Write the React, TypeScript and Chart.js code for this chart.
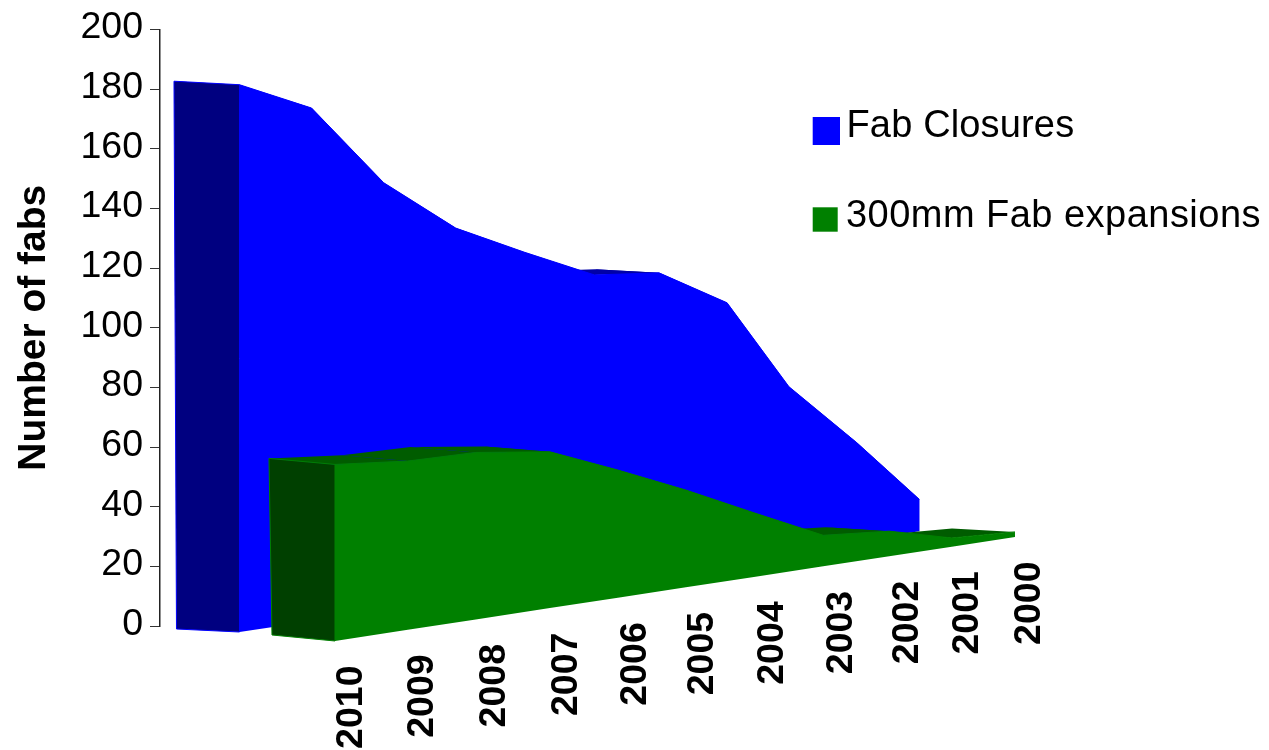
import React, { useEffect, useRef } from "react";
import { Chart, registerables } from "chart.js";

Chart.register(...registerables);

// Tick labels along the receding floor
const yearLabels = ["2010", "2009", "2008", "2007", "2006", "2005", "2004", "2003", "2002", "2001", "2000"];
const yearLabelNudge = [2, 0, 4, 2, 3, 2, 4, 3, 3, 1, 0];

// Series values
const closureValues = [183.5, 172.1, 143.5, 124.7, 113.2, 102.1, 99.6, 86.2, 55, 32.8, 10.7];
const expansionValues = [59.2, 56.6, 56, 52.4, 42.8, 32.6, 21.5, 10.4, 8.4, 2.9, 1.7];

// Where each vertex sits along the year axis in the drawing
const closurePositions = [2010, 2008.94, 2007.88, 2006.82, 2005.81, 2004.78, 2003.83, 2002.83, 2001.92, 2000.92, 2000];
const expansionPositions = [2010, 2008.93, 2007.93, 2006.84, 2005.84, 2004.84, 2003.84, 2002.82, 2001.85, 2000.93, 2000];

const FONT = '"Liberation Sans", Arial, sans-serif';

const seriesStyles = [
  { front: "#0000ff", side: "#000080", top: "#0000a8", shiftX: -95.5, shiftY: 6, skew: -0.148, dxTop: -65.5, dxEnd: -63, dyTop: -3.5, dyEnd: -3.5, dxBot: -63, dyBot: -3 },
  { front: "#008000", side: "#004000", top: "#005c00", shiftX: 0, shiftY: 15, skew: -0.153, dxTop: -66, dxEnd: -63, dyTop: -6, dyEnd: -3.5, dxBot: -63, dyBot: -6 },
];

const legendRows = [
  { box: [812.7, 117, 27.3, 28], textX: 846.5, textY: 136.7, spacing: "0.15px" },
  { box: [812.7, 207.3, 25, 24.4], textX: 846, textY: 227.3, spacing: "0.47px" },
];

const poly = (ctx: CanvasRenderingContext2D, pts: number[][], fill: string, stroke?: string) => {
  ctx.beginPath();
  pts.forEach((p, i) => (i ? ctx.lineTo(p[0], p[1]) : ctx.moveTo(p[0], p[1])));
  ctx.closePath();
  ctx.fillStyle = fill;
  ctx.fill();
  if (stroke) {
    ctx.strokeStyle = stroke;
    ctx.lineWidth = 1;
    ctx.stroke();
  }
};

const floorY = (chart: any, style: any, x: number, x0: number) =>
  chart.scales.y.getPixelForValue(0) + style.shiftY + style.skew * (x - x0);

const area3d = {
  id: "area3d",
  afterDatasetsUpdate(chart: any) {
    const { x: xs } = chart.scales;
    chart.data.datasets.forEach((_: any, d: number) => {
      const st = seriesStyles[d];
      const els = chart.getDatasetMeta(d).data;
      const x0 = xs.getPixelForValue(2010) + st.shiftX;
      els.forEach((el: any) => {
        const px = el.x + st.shiftX;
        el.x = px;
        el.y = el.y + st.shiftY + st.skew * (px - x0);
      });
    });
  },
  beforeDatasetsDraw(chart: any) {
    const ctx: CanvasRenderingContext2D = chart.ctx;
    ctx.save();
    chart.data.datasets.forEach((_: any, d: number) => {
      const st = seriesStyles[d];
      const els = chart.getDatasetMeta(d).data;
      const x0 = els[0].x;
      const back = (i: number) => {
        const t = i / (els.length - 1);
        return [els[i].x + st.dxTop + (st.dxEnd - st.dxTop) * t, els[i].y + st.dyTop + (st.dyEnd - st.dyTop) * t];
      };
      // top surface
      for (let i = 0; i < els.length - 1; i++) {
        poly(ctx, [[els[i].x, els[i].y], [els[i + 1].x, els[i + 1].y], back(i + 1), back(i)], st.top);
      }
      // left side wall
      const by = floorY(chart, st, x0, x0);
      poly(ctx, [[x0, els[0].y], [x0, by], [x0 + st.dxBot, by + st.dyBot], back(0)], st.side, st.front);
      // front face
      const pts = els.map((e: any) => [e.x, e.y]);
      for (let i = els.length - 1; i >= 0; i--) pts.push([els[i].x, floorY(chart, st, els[i].x, x0)]);
      poly(ctx, pts, st.front);
    });
    ctx.restore();
  },
  afterDraw(chart: any) {
    const ctx: CanvasRenderingContext2D = chart.ctx;
    ctx.save();
    // year labels along the floor of the front series
    const st = seriesStyles[1];
    const els = chart.getDatasetMeta(1).data;
    ctx.font = `bold 37.5px ${FONT}`;
    ctx.textAlign = "right";
    ctx.textBaseline = "middle";
    yearLabels.forEach((label, i) => {
      const el = els[i];
      ctx.save();
      ctx.translate(el.x + 15 + yearLabelNudge[i], floorY(chart, st, el.x, els[0].x) + 24.5);
      ctx.rotate(-Math.PI / 2);
      ctx.fillStyle = "#000";
      ctx.fillText(label, 0, 0);
      ctx.restore();
    });
    // legend
    ctx.font = `38px ${FONT}`;
    ctx.textAlign = "left";
    ctx.textBaseline = "alphabetic";
    chart.data.datasets.forEach((ds: any, d: number) => {
      const row = legendRows[d];
      ctx.fillStyle = seriesStyles[d].front;
      ctx.fillRect(row.box[0], row.box[1], row.box[2], row.box[3]);
      ctx.fillStyle = "#000";
      (ctx as any).letterSpacing = row.spacing;
      ctx.fillText(ds.label, row.textX, row.textY);
    });
    ctx.restore();
  },
};

export default function App() {
  const ref = useRef<HTMLCanvasElement>(null);
  useEffect(() => {
    const chart = new Chart(ref.current as HTMLCanvasElement, {
      type: "line",
      data: {
        datasets: [
          {
            label: "Fab Closures",
            data: closureValues.map((y, i) => ({ x: closurePositions[i], y })),
            borderColor: seriesStyles[0].front,
            borderWidth: 1,
            pointRadius: 0,
            tension: 0,
            fill: false,
            clip: false,
          },
          {
            label: "300mm Fab expansions",
            data: expansionValues.map((y, i) => ({ x: expansionPositions[i], y })),
            borderColor: seriesStyles[1].front,
            borderWidth: 1,
            pointRadius: 0,
            tension: 0,
            fill: false,
            clip: false,
          },
        ],
      } as any,
      options: {
        responsive: false,
        animation: false,
        devicePixelRatio: 1,
        layout: { padding: { left: 0, right: 229, top: 24.5, bottom: 124 } },
        plugins: { legend: { display: false }, tooltip: { enabled: false } },
        scales: {
          x: { type: "linear", reverse: true, display: false, min: 1999.632, max: 2012.5735 },
          y: {
            min: 0,
            max: 200,
            afterFit: (s: any) => {
              s.width = 160;
            },
            title: {
              display: true,
              text: "Number of fabs",
              color: "#000",
              font: { family: FONT, size: 39, weight: "bold" },
              padding: { top: 10.4, bottom: 0 },
            },
            ticks: {
              stepSize: 20,
              color: "#000",
              padding: 7,
              labelOffset: -1.5,
              font: { family: FONT, size: 37.5 },
            },
            grid: { drawOnChartArea: false, drawTicks: true, tickLength: 10, tickColor: "#333", lineWidth: 1 },
            border: { display: true, color: "#222", width: 1.5 },
          },
        },
      } as any,
      plugins: [area3d],
    });
    return () => chart.destroy();
  }, []);
  return (
    <canvas ref={ref} width={1269} height={750} style={{ position: "absolute", left: 0, top: 0, display: "block" }} />
  );
}
